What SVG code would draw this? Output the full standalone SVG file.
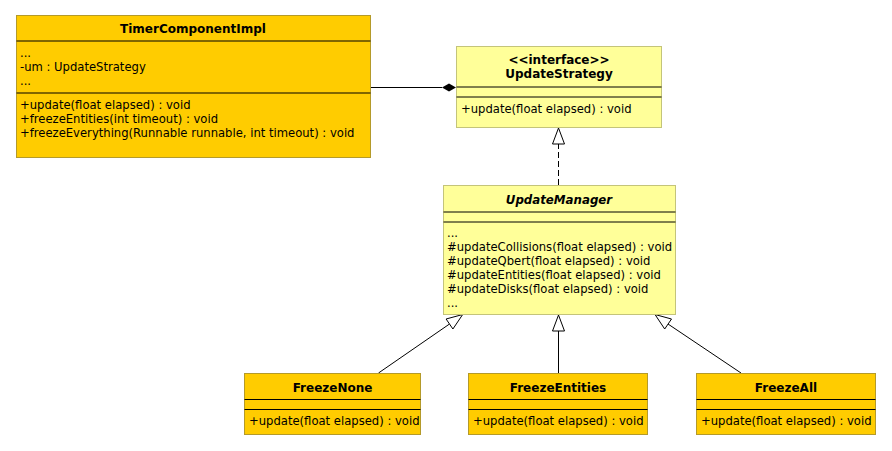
<svg xmlns="http://www.w3.org/2000/svg" width="892" height="451" viewBox="0 0 892 451">
<style>
.box-o{fill:#ffcc00;stroke:#b49a2a;stroke-width:1}
.box-y{fill:#ffff99;stroke:#c4c47a;stroke-width:1}
.div{stroke:#000;stroke-width:1}
text{font-family:"DejaVu Sans","Liberation Sans",sans-serif;font-size:11.6px;fill:#000}
.t{font-weight:bold;text-anchor:middle;font-size:12px}
.ti{font-weight:bold;font-style:italic;text-anchor:middle;font-size:11.8px}
.ln{stroke:#000;stroke-width:1;fill:none}
.dash{stroke:#000;stroke-width:1;fill:none;stroke-dasharray:6,3}
.tri{fill:#fff;stroke:#000;stroke-width:1}
</style>
<rect width="892" height="451" fill="#fff"/>
<g id="connectors">
<line class="ln" x1="370" y1="87.5" x2="442" y2="87.5"/>
<polygon points="442,87.5 449,83.5 456,87.5 449,91.5" fill="#000"/>
<line class="dash" x1="558.5" y1="185" x2="558.5" y2="144"/>
<polygon class="tri" points="558.5,128 564.5,144 552.5,144"/>
<line class="ln" x1="378.5" y1="373" x2="449.5" y2="324"/>
<polygon class="tri" points="462.7,314.5 452.9,329 446.1,319"/>
<line class="ln" x1="558.5" y1="373" x2="558.5" y2="331"/>
<polygon class="tri" points="558.5,315 564.5,331 552.5,331"/>
<line class="ln" x1="741" y1="373" x2="668" y2="324"/>
<polygon class="tri" points="655,314.5 664.7,329 671.5,319"/>
</g>
<g id="TimerComponentImpl">
<rect class="box-o" x="16.5" y="15.5" width="354" height="142"/>
<line class="div" x1="16.5" y1="41" x2="370.5" y2="41"/>
<line class="div" x1="16.5" y1="93" x2="370.5" y2="93"/>
<text class="t" x="193" y="33">TimerComponentImpl</text>
<text x="20" y="57">...</text>
<text x="20" y="71">-um : UpdateStrategy</text>
<text x="20" y="85">...</text>
<text x="20" y="109">+update(float elapsed) : void</text>
<text x="20" y="123">+freezeEntities(int timeout) : void</text>
<text x="20" y="137">+freezeEverything(Runnable runnable, int timeout) : void</text>
</g>
<g id="UpdateStrategy">
<rect class="box-y" x="456.5" y="46.5" width="205" height="81"/>
<line class="div" x1="456.5" y1="87" x2="661.5" y2="87"/>
<line class="div" x1="456.5" y1="97" x2="661.5" y2="97"/>
<text class="t" x="559" y="64">&lt;&lt;interface&gt;&gt;</text>
<text class="t" x="559" y="78">UpdateStrategy</text>
<text x="461" y="113">+update(float elapsed) : void</text>
</g>
<g id="UpdateManager">
<rect class="box-y" x="443.5" y="185.5" width="232" height="129"/>
<line class="div" x1="443.5" y1="212" x2="675.5" y2="212"/>
<line class="div" x1="443.5" y1="222" x2="675.5" y2="222"/>
<text class="ti" x="559" y="204">UpdateManager</text>
<text x="447" y="237">...</text>
<text x="447" y="251">#updateCollisions(float elapsed) : void</text>
<text x="447" y="265">#updateQbert(float elapsed) : void</text>
<text x="447" y="279">#updateEntities(float elapsed) : void</text>
<text x="447" y="293">#updateDisks(float elapsed) : void</text>
<text x="447" y="307">...</text>
</g>
<g id="FreezeNone">
<rect class="box-o" x="244.5" y="373.5" width="176" height="61"/>
<line class="div" x1="244.5" y1="399.5" x2="420.5" y2="399.5"/>
<line class="div" x1="244.5" y1="409.5" x2="420.5" y2="409.5"/>
<text class="t" x="332.5" y="392">FreezeNone</text>
<text x="249" y="425">+update(float elapsed) : void</text>
</g>
<g id="FreezeEntities">
<rect class="box-o" x="468.5" y="373.5" width="179" height="61"/>
<line class="div" x1="468.5" y1="399.5" x2="647.5" y2="399.5"/>
<line class="div" x1="468.5" y1="409.5" x2="647.5" y2="409.5"/>
<text class="t" x="558" y="392">FreezeEntities</text>
<text x="473" y="425">+update(float elapsed) : void</text>
</g>
<g id="FreezeAll">
<rect class="box-o" x="696.5" y="373.5" width="179" height="61"/>
<line class="div" x1="696.5" y1="399.5" x2="875.5" y2="399.5"/>
<line class="div" x1="696.5" y1="409.5" x2="875.5" y2="409.5"/>
<text class="t" x="786" y="392">FreezeAll</text>
<text x="701" y="425">+update(float elapsed) : void</text>
</g>
</svg>
